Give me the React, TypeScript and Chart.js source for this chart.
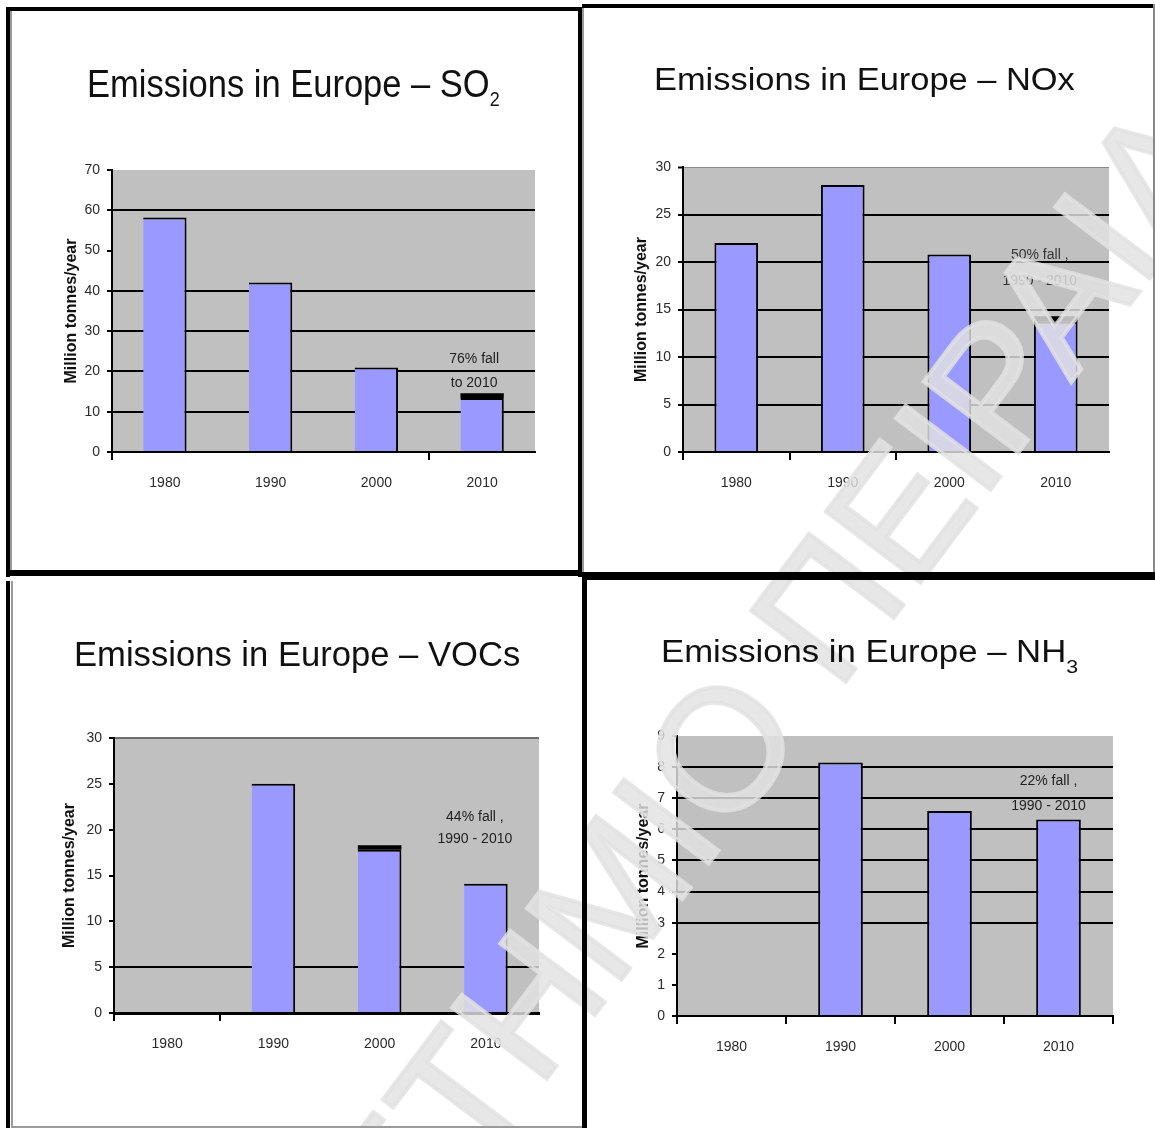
import React, { useEffect, useRef } from "react";
import { Chart, registerables } from "chart.js";

Chart.register(...registerables);

const FONT = '"Liberation Sans", Arial, Helvetica, sans-serif';

// Categories shared by all four panels
const years = ["1980", "1990", "2000", "2010"];

// SO2, million tonnes/year (cap = dark top segment)
const so2Main = [58.2, 42.1, 21.0, 13.4];
const so2Cap = [0, 0, 0, 1.2];
const so2GridValues = [0, 10, 20, 30, 40, 60];
const so2Note = ["76% fall", "to 2010"];

// NOx
const noxMain = [22.0, 28.1, 20.8, 13.7];
const noxCap = [0, 0, 0, 0.6];
const noxGridValues = [0, 5, 10, 15, 20, 25];
const noxNote = ["50% fall ,", "1990 - 2010"];

// VOCs (no 1980 value)
const vocMain = [null, 25.0, 17.8, 14.1];
const vocCap = [null, 0, 0.5, 0];
const vocGridValues = [0, 5];
const vocNote = ["44% fall ,", "1990 - 2010"];

// NH3 (no 1980 value)
const nh3Main = [null, 8.15, 6.59, 6.32];
const nh3Cap = [null, 0, 0, 0];
const nh3GridValues = [0, 3, 4, 5, 6, 7, 8];
const nh3Note = ["22% fall ,", "1990 - 2010"];

const yAxisTitle = "Million tonnes/year";

// Diagonal watermark, split around the letter it is anchored on
const watermarkHead = "ΠΑΝΕΠΙΣΤΗΜΙ";
const watermarkTail = "Ο ΠΕΙΡΑΙΑ";

type Box = { left: number; top: number; width: number; height: number };
type Rect = { left: number; top: number; right: number; bottom: number };

type PanelSpec = {
  id: string;
  title: string;
  sub?: string;
  titleStyle: { size: number; scaleX: number; left: number; top: number; subSize?: number; subDrop?: number };
  canvas: Box;
  plot: Rect;
  yMax: number;
  yStep: number;
  main: (number | null)[];
  cap: (number | null)[];
  grid: number[];
  topLine?: { color: string; width: number };
  axisWidth: number;
  xTickMarks: number[]; // category boundaries (0..4) that carry a tick mark
  barBorder: { top: number; right: number; left: number; bottom: number };
  yTitleX: number;
  note: { lines: string[]; index: number; dx: number; value: number; gap: number; color: string };
};

const panels: PanelSpec[] = [
  {
    id: "so2",
    title: "Emissions in Europe – SO",
    sub: "2",
    titleStyle: { size: 38.5, scaleX: 0.896, left: 87, top: 65.4, subSize: 20, subDrop: 9 },
    canvas: { left: 12, top: 120, width: 566, height: 445 },
    plot: { left: 112, top: 170, right: 535, bottom: 452 },
    yMax: 70,
    yStep: 10,
    main: so2Main,
    cap: so2Cap,
    grid: so2GridValues,
    axisWidth: 2,
    xTickMarks: [0, 3],
    barBorder: { top: 2, right: 2, left: 0, bottom: 0 },
    yTitleX: 71.5,
    note: { lines: so2Note, index: 3, dx: -8, value: 23.1, gap: 24, color: "#222" },
  },
  {
    id: "nox",
    title: "Emissions in Europe – NOx",
    titleStyle: { size: 31, scaleX: 1.11, left: 654, top: 64.4 },
    canvas: { left: 586, top: 115, width: 564, height: 450 },
    plot: { left: 683, top: 167, right: 1109, bottom: 452 },
    yMax: 30,
    yStep: 5,
    main: noxMain,
    cap: noxCap,
    grid: noxGridValues,
    topLine: { color: "#8a8a8a", width: 1 },
    axisWidth: 2,
    xTickMarks: [0, 1, 2],
    barBorder: { top: 2, right: 2, left: 2, bottom: 0 },
    yTitleX: 641.5,
    note: { lines: noxNote, index: 3, dx: -16, value: 20.7, gap: 26, color: "#333" },
  },
  {
    id: "voc",
    title: "Emissions in Europe – VOCs",
    titleStyle: { size: 35.5, scaleX: 0.975, left: 73.8, top: 637.4 },
    canvas: { left: 12, top: 690, width: 568, height: 430 },
    plot: { left: 114, top: 738, right: 539, bottom: 1013 },
    yMax: 30,
    yStep: 5,
    main: vocMain,
    cap: vocCap,
    grid: vocGridValues,
    topLine: { color: "#707070", width: 2 },
    axisWidth: 3,
    xTickMarks: [0, 1],
    barBorder: { top: 2, right: 2, left: 0, bottom: 0 },
    yTitleX: 70,
    note: { lines: vocNote, index: 3, dx: -11, value: 21.4, gap: 22.5, color: "#222" },
  },
  {
    id: "nh3",
    title: "Emissions in Europe – NH",
    sub: "3",
    titleStyle: { size: 31, scaleX: 1.12, left: 661, top: 636.3, subSize: 19, subDrop: 11 },
    canvas: { left: 590, top: 690, width: 560, height: 430 },
    plot: { left: 677, top: 736, right: 1113, bottom: 1016 },
    yMax: 9,
    yStep: 1,
    main: nh3Main,
    cap: nh3Cap,
    grid: nh3GridValues,
    axisWidth: 2,
    xTickMarks: [0, 1, 2, 3, 4],
    barBorder: { top: 2, right: 2, left: 2, bottom: 0 },
    yTitleX: 643.5,
    note: { lines: nh3Note, index: 3, dx: -10, value: 7.54, gap: 25, color: "#222" },
  },
];

// Grey plot background behind grid and bars
const plotFill = {
  id: "plotFill",
  beforeDraw(chart: any) {
    const { ctx, chartArea } = chart;
    if (!chartArea) return;
    ctx.save();
    ctx.fillStyle = "#c0c0c0";
    ctx.fillRect(chartArea.left, chartArea.top, chartArea.width, chartArea.height);
    ctx.restore();
  },
};

// Two-line "% fall" note placed in data coordinates
const fallNote = {
  id: "fallNote",
  afterDatasetsDraw(chart: any, _args: any, opts: any) {
    if (!opts || !opts.lines) return;
    const { ctx } = chart;
    const x = chart.scales.x.getPixelForValue(opts.index) + opts.dx;
    const y0 = chart.scales.y.getPixelForValue(opts.value);
    ctx.save();
    ctx.font = `14px ${FONT}`;
    ctx.fillStyle = opts.color;
    ctx.textAlign = "center";
    ctx.textBaseline = "middle";
    opts.lines.forEach((t: string, i: number) => ctx.fillText(t, x, y0 + i * opts.gap));
    ctx.restore();
  },
};

function PanelChart({ spec }: { spec: PanelSpec }) {
  const ref = useRef<HTMLCanvasElement>(null);

  useEffect(() => {
    const el = ref.current;
    if (!el) return;
    const { canvas, plot } = spec;
    const padTop = plot.top - canvas.top;
    const padRight = canvas.left + canvas.width - plot.right;
    const yWidth = plot.left - canvas.left;
    const xHeight = canvas.top + canvas.height - plot.bottom;
    const titleFont = { family: FONT, size: 16, weight: "bold" as const, lineHeight: 1.2 };
    const titlePad = spec.yTitleX - canvas.left - (16 * 1.2) / 2;

    const chart = new Chart(el, {
      type: "bar",
      data: {
        labels: years,
        datasets: [
          {
            data: spec.main,
            backgroundColor: "#9999ff",
            borderColor: "#000000",
            borderWidth: spec.barBorder,
            borderSkipped: false,
            barPercentage: 0.41,
            categoryPercentage: 1,
            stack: "s",
          },
          {
            data: spec.cap,
            backgroundColor: "#000000",
            borderWidth: 0,
            barPercentage: 0.41,
            categoryPercentage: 1,
            stack: "s",
          },
        ],
      },
      options: {
        responsive: false,
        animation: false,
        events: [],
        layout: { padding: { top: padTop, right: padRight, left: 0, bottom: 0 } },
        plugins: {
          legend: { display: false },
          tooltip: { enabled: false },
          title: { display: false },
          fallNote: spec.note,
        } as any,
        scales: {
          x: {
            stacked: true,
            offset: true,
            grid: {
              offset: true,
              drawOnChartArea: false,
              drawTicks: true,
              tickLength: 8,
              color: (ctx: any) => {
                const i = typeof ctx.index === "number" ? ctx.index : years.length;
                return spec.xTickMarks.includes(i) ? "#000000" : "rgba(0,0,0,0)";
              },
              lineWidth: 2,
            },
            border: { display: true, color: "#000000", width: spec.axisWidth },
            ticks: {
              padding: 15,
              color: "#2a2a2a",
              font: { family: FONT, size: 14 },
              maxRotation: 0,
              autoSkip: false,
            },
            afterFit: (s: any) => {
              s.height = xHeight;
            },
          },
          y: {
            stacked: true,
            min: 0,
            max: spec.yMax,
            ticks: {
              stepSize: spec.yStep,
              padding: 7,
              color: "#2a2a2a",
              font: { family: FONT, size: 14 },
            },
            grid: {
              color: (ctx: any) => {
                const v = ctx.tick ? ctx.tick.value : null;
                if (v === spec.yMax && spec.topLine) return spec.topLine.color;
                return spec.grid.includes(v) ? "#000000" : "rgba(0,0,0,0)";
              },
              lineWidth: (ctx: any) => {
                const v = ctx.tick ? ctx.tick.value : null;
                if (v === spec.yMax && spec.topLine) return spec.topLine.width;
                return 2;
              },
              tickColor: "#000000",
              tickWidth: 2,
              tickLength: 5,
              drawTicks: true,
            },
            border: { display: true, color: "#000000", width: 2 },
            title: {
              display: true,
              text: yAxisTitle,
              color: "#111111",
              font: titleFont,
              padding: { top: titlePad, bottom: 0 },
            },
            afterFit: (s: any) => {
              s.width = yWidth;
            },
          },
        },
      } as any,
      plugins: [plotFill, fallNote],
    });
    return () => chart.destroy();
  }, [spec]);

  const { canvas } = spec;
  return (
    <canvas
      ref={ref}
      width={canvas.width}
      height={canvas.height}
      style={{
        position: "absolute",
        left: canvas.left,
        top: canvas.top,
        width: canvas.width,
        height: canvas.height,
      }}
    />
  );
}

function PanelTitle({ spec }: { spec: PanelSpec }) {
  const t = spec.titleStyle;
  return (
    <div
      style={{
        position: "absolute",
        left: t.left,
        top: t.top,
        fontFamily: FONT,
        fontSize: t.size,
        lineHeight: `${t.size}px`,
        color: "#111111",
        whiteSpace: "nowrap",
        transform: `scaleX(${t.scaleX})`,
        transformOrigin: "0 0",
      }}
    >
      {spec.title}
      {spec.sub ? (
        <span style={{ fontSize: t.subSize, position: "relative", top: t.subDrop, lineHeight: 0 }}>{spec.sub}</span>
      ) : null}
    </div>
  );
}

function Watermark() {
  const fill = "rgba(226,226,226,0.82)";
  const text: React.CSSProperties = {
    position: "absolute",
    top: 0,
    transform: "translateY(-50%)",
    whiteSpace: "nowrap",
    fontFamily: FONT,
    fontWeight: "normal",
    fontSize: 172,
    lineHeight: "172px",
    color: fill,
    WebkitTextStroke: `4px ${fill}`,
  };
  return (
    <div
      style={{
        position: "absolute",
        left: 679.5,
        top: 802,
        width: 0,
        height: 0,
        transform: "rotate(-53deg)",
        pointerEvents: "none",
      }}
    >
      <div style={{ ...text, right: 0 }}>{watermarkHead}</div>
      <div style={{ ...text, left: 0 }}>{watermarkTail}</div>
    </div>
  );
}

// Frame rules around the four slides
const frameRules = [
  { l: 6, t: 7, w: 576, h: 4, c: "#000" },
  { l: 6, t: 7, w: 4, h: 570, c: "#000" },
  { l: 10, t: 11, w: 2, h: 559, c: "#9a9a9a" },
  { l: 578, t: 7, w: 4, h: 570, c: "#000" },
  { l: 582, t: 4, w: 573, h: 4, c: "#000" },
  { l: 582, t: 8, w: 2, h: 564, c: "#9a9a9a" },
  { l: 1153, t: 4, w: 2, h: 570, c: "#8a8a8a" },
  { l: 6, t: 570, w: 576, h: 6, c: "#000" },
  { l: 582, t: 572, w: 573, h: 8, c: "#000" },
  { l: 6, t: 581, w: 4, h: 547, c: "#000" },
  { l: 11, t: 581, w: 2, h: 547, c: "#9a9a9a" },
  { l: 582, t: 576, w: 5, h: 552, c: "#000" },
  { l: 12, t: 1126, w: 570, h: 2, c: "#9a9a9a" },
];

export default function App() {
  return (
    <div
      style={{
        position: "absolute",
        left: 0,
        top: 0,
        width: 1155,
        height: 1128,
        overflow: "hidden",
        background: "#ffffff",
      }}
    >
      {panels.map((p) => (
        <PanelChart key={`c-${p.id}`} spec={p} />
      ))}
      <Watermark />
      {frameRules.map((r, i) => (
        <div
          key={i}
          style={{ position: "absolute", left: r.l, top: r.t, width: r.w, height: r.h, background: r.c }}
        />
      ))}
      {panels.map((p) => (
        <PanelTitle key={`t-${p.id}`} spec={p} />
      ))}
    </div>
  );
}
